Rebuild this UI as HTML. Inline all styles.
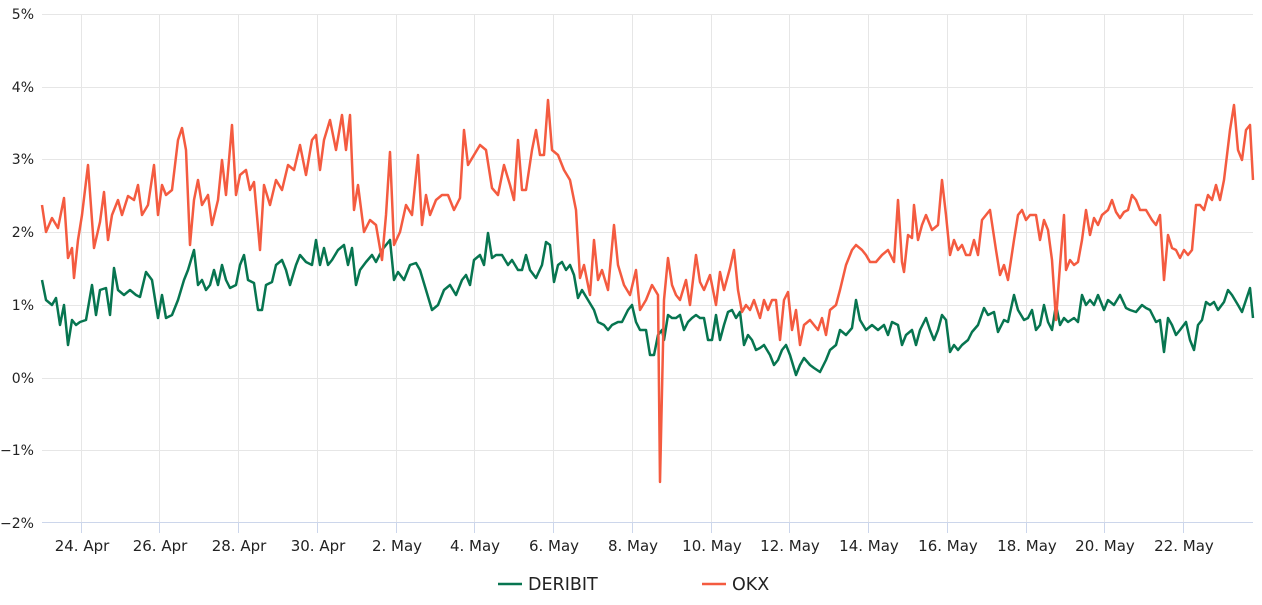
<!DOCTYPE html>
<html><head><meta charset="utf-8"><style>
body{margin:0;background:#fff;}
svg text{font-family:"DejaVu Sans","Liberation Sans",sans-serif;fill:#222;}
</style></head><body>
<svg width="1262" height="600" xmlns="http://www.w3.org/2000/svg">
<g stroke="#e6e6e6" stroke-width="1">
<line x1="42" x2="1253" y1="14.5" y2="14.5"/><line x1="42" x2="1253" y1="87.5" y2="87.5"/>
<line x1="42" x2="1253" y1="159.5" y2="159.5"/><line x1="42" x2="1253" y1="232.5" y2="232.5"/>
<line x1="42" x2="1253" y1="305.5" y2="305.5"/><line x1="42" x2="1253" y1="378.5" y2="378.5"/>
<line x1="42" x2="1253" y1="450.5" y2="450.5"/>
<line x1="81.5" x2="81.5" y1="14" y2="523"/><line x1="159.5" x2="159.5" y1="14" y2="523"/>
<line x1="238.5" x2="238.5" y1="14" y2="523"/><line x1="317.5" x2="317.5" y1="14" y2="523"/>
<line x1="396.5" x2="396.5" y1="14" y2="523"/><line x1="474.5" x2="474.5" y1="14" y2="523"/>
<line x1="553.5" x2="553.5" y1="14" y2="523"/><line x1="632.5" x2="632.5" y1="14" y2="523"/>
<line x1="711.5" x2="711.5" y1="14" y2="523"/><line x1="789.5" x2="789.5" y1="14" y2="523"/>
<line x1="868.5" x2="868.5" y1="14" y2="523"/><line x1="947.5" x2="947.5" y1="14" y2="523"/>
<line x1="1026.5" x2="1026.5" y1="14" y2="523"/><line x1="1104.5" x2="1104.5" y1="14" y2="523"/>
<line x1="1183.5" x2="1183.5" y1="14" y2="523"/>
</g>
<line x1="42" x2="1253" y1="522.5" y2="522.5" stroke="#ccd6eb"/>
<g stroke="#ccd6eb"><line x1="81.5" x2="81.5" y1="523" y2="533"/><line x1="159.5" x2="159.5" y1="523" y2="533"/><line x1="238.5" x2="238.5" y1="523" y2="533"/><line x1="317.5" x2="317.5" y1="523" y2="533"/><line x1="396.5" x2="396.5" y1="523" y2="533"/><line x1="474.5" x2="474.5" y1="523" y2="533"/><line x1="553.5" x2="553.5" y1="523" y2="533"/><line x1="632.5" x2="632.5" y1="523" y2="533"/><line x1="711.5" x2="711.5" y1="523" y2="533"/><line x1="789.5" x2="789.5" y1="523" y2="533"/><line x1="868.5" x2="868.5" y1="523" y2="533"/><line x1="947.5" x2="947.5" y1="523" y2="533"/><line x1="1026.5" x2="1026.5" y1="523" y2="533"/><line x1="1104.5" x2="1104.5" y1="523" y2="533"/><line x1="1183.5" x2="1183.5" y1="523" y2="533"/></g>
<g font-size="14" text-anchor="end">
<text x="34" y="19">5%</text><text x="34" y="92">4%</text><text x="34" y="164">3%</text><text x="34" y="237">2%</text><text x="34" y="310">1%</text><text x="34" y="383">0%</text><text x="34" y="455">−1%</text><text x="34" y="528">−2%</text>
</g>
<g font-size="15" text-anchor="middle">
<text x="82" y="551">24. Apr</text><text x="160" y="551">26. Apr</text><text x="239" y="551">28. Apr</text><text x="318" y="551">30. Apr</text><text x="397" y="551">2. May</text><text x="475" y="551">4. May</text><text x="554" y="551">6. May</text><text x="633" y="551">8. May</text><text x="712" y="551">10. May</text><text x="790" y="551">12. May</text><text x="869" y="551">14. May</text><text x="948" y="551">16. May</text><text x="1027" y="551">18. May</text><text x="1105" y="551">20. May</text><text x="1184" y="551">22. May</text>
</g>
<polyline fill="none" stroke="#077550" stroke-width="2.5" stroke-linejoin="round" points="42,280 46,300 52,305 56,298 60,325 64,305 68,345 72,320 76,325 80,322 86,320 92,285 96,315 100,290 106,288 110,315 114,268 118,290 124,295 130,290 136,295 140,297 146,272 152,280 158,318 162,295 166,318 172,315 178,300 184,280 188,270 194,250 198,285 202,280 206,290 210,285 214,270 218,285 222,265 226,280 230,288 236,285 240,265 244,255 248,280 254,283 258,310 262,310 266,285 272,282 276,265 282,260 286,270 290,285 296,265 300,255 306,262 312,265 316,240 320,265 324,248 328,265 332,260 338,250 344,245 348,265 352,248 356,285 360,270 366,262 372,255 376,262 382,250 386,245 390,240 394,280 398,272 404,280 410,265 416,263 420,270 426,290 432,310 438,305 444,290 450,285 456,295 462,280 466,275 470,285 474,260 480,255 484,265 488,233 492,258 496,255 502,255 508,265 512,260 518,270 522,270 526,255 530,270 536,278 542,265 546,242 550,245 554,282 558,265 562,262 566,270 570,265 574,275 578,298 582,290 588,300 594,310 598,322 604,325 608,330 612,325 618,322 622,322 628,310 632,305 636,322 640,330 646,330 650,355 654,355 658,335 662,330 664,340 668,315 672,318 676,318 680,315 684,330 688,322 692,318 696,315 700,318 704,318 708,340 712,340 716,315 720,340 724,325 728,312 732,310 736,318 740,312 744,345 748,335 752,340 756,350 760,348 764,345 770,355 774,365 778,360 782,350 786,345 790,355 796,375 800,365 804,358 810,365 814,368 820,372 826,360 830,350 836,345 840,330 846,335 852,328 856,300 860,320 866,330 872,325 878,330 884,325 888,335 892,322 898,325 902,345 906,335 912,330 916,345 920,330 926,318 930,330 934,340 938,330 942,315 946,320 950,352 954,345 958,350 962,345 968,340 972,332 978,325 984,308 988,315 994,312 998,332 1004,320 1008,322 1014,295 1018,310 1024,320 1028,318 1032,310 1036,330 1040,325 1044,305 1048,322 1052,330 1056,305 1060,325 1064,318 1068,322 1074,318 1078,322 1082,295 1086,305 1090,300 1094,305 1098,295 1104,310 1108,300 1114,305 1120,295 1126,308 1130,310 1136,312 1142,305 1146,308 1150,310 1156,322 1160,320 1164,352 1168,318 1172,325 1176,335 1180,330 1186,322 1190,340 1194,350 1198,325 1202,320 1206,302 1210,305 1214,302 1218,310 1224,302 1228,290 1232,295 1238,305 1242,312 1246,300 1250,288 1253,318"/>
<polyline fill="none" stroke="#f45b40" stroke-width="2.5" stroke-linejoin="round" points="42,205 46,232 52,218 58,228 64,198 68,258 72,248 74,278 78,240 82,215 88,165 94,248 100,222 104,192 108,240 112,215 118,200 122,215 128,196 134,200 138,185 142,215 148,205 154,165 158,215 162,185 166,195 172,190 178,140 182,128 186,150 190,245 194,200 198,180 202,205 208,195 212,225 218,200 222,160 226,195 232,125 236,195 240,175 246,170 250,190 254,182 260,250 264,185 270,205 276,180 282,190 288,165 294,170 300,145 306,175 312,140 316,135 320,170 324,140 330,120 336,150 342,115 346,150 350,115 354,210 358,185 364,232 370,220 376,225 382,260 386,215 390,152 394,245 400,232 406,205 412,215 418,155 422,225 426,195 430,215 436,200 442,195 448,195 454,210 460,198 464,130 468,165 474,155 480,145 486,150 492,188 498,195 504,165 510,185 514,200 518,140 522,190 526,190 532,150 536,130 540,155 544,155 548,100 552,150 558,155 564,170 570,180 576,210 580,278 584,265 590,295 594,240 598,280 602,270 608,290 614,225 618,265 624,285 630,295 636,270 640,310 646,300 652,285 658,295 660,482 664,300 668,258 672,285 676,295 680,300 686,280 690,305 696,255 700,282 704,290 710,275 716,305 720,272 724,290 730,268 734,250 738,290 742,312 746,305 750,310 754,300 760,318 764,300 768,310 772,300 776,300 780,340 784,300 788,292 792,330 796,310 800,345 804,325 810,320 818,330 822,318 826,335 830,310 836,305 840,290 846,265 852,250 856,245 862,250 866,255 870,262 876,262 882,255 888,250 894,262 898,200 902,262 904,272 908,235 912,238 914,205 918,240 922,225 926,215 932,230 938,225 942,180 946,215 950,255 954,240 958,250 962,245 966,255 970,255 974,240 978,255 982,220 986,215 990,210 996,250 1000,275 1004,265 1008,280 1014,240 1018,215 1022,210 1026,220 1030,215 1036,215 1040,240 1044,220 1048,230 1052,260 1056,320 1060,265 1064,215 1066,270 1070,260 1074,265 1078,262 1082,240 1086,210 1090,235 1094,218 1098,225 1102,215 1108,210 1112,200 1116,212 1120,218 1124,212 1128,210 1132,195 1136,200 1140,210 1146,210 1152,220 1156,225 1160,215 1164,280 1168,235 1172,248 1176,250 1180,258 1184,250 1188,255 1192,250 1196,205 1200,205 1204,210 1208,195 1212,200 1216,185 1220,200 1224,180 1230,130 1234,105 1238,150 1242,160 1246,130 1250,125 1253,180"/>
<line x1="498" x2="522" y1="584" y2="584" stroke="#077550" stroke-width="2.5"/>
<text x="528" y="590" font-size="17.5">DERIBIT</text>
<line x1="702" x2="726" y1="584" y2="584" stroke="#f45b40" stroke-width="2.5"/>
<text x="732" y="590" font-size="17.5">OKX</text>
</svg>
</body></html>
